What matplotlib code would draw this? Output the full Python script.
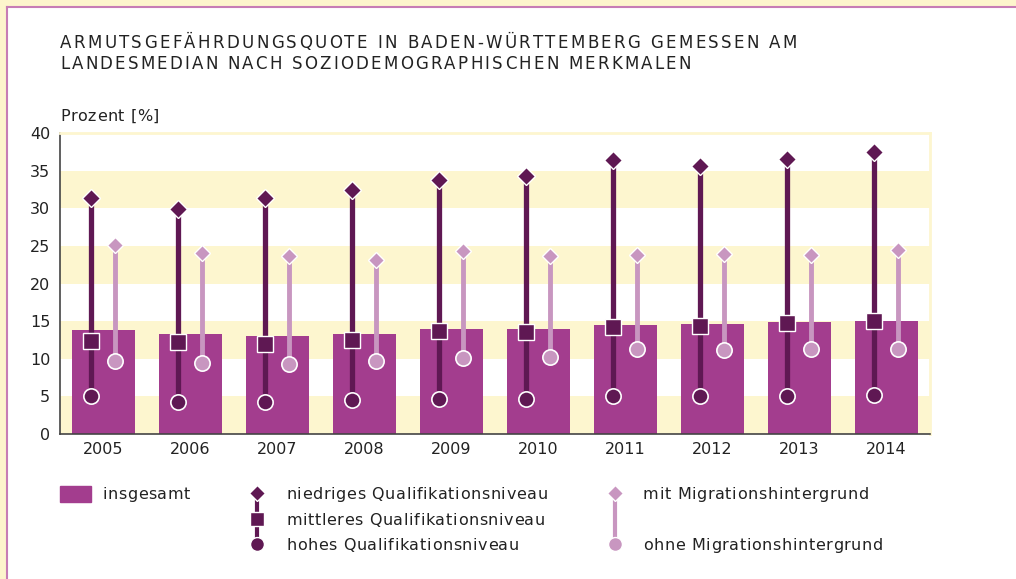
import matplotlib
matplotlib.use("Agg")
from matplotlib import pyplot as plt
from matplotlib.patches import Rectangle
from matplotlib.lines import Line2D
from matplotlib.font_manager import findfont, FontProperties
from matplotlib.ft2font import FT2Font
import numpy as np

plt.rcParams['font.family'] = ['DejaVu Sans']

years = ["2005", "2006", "2007", "2008", "2009", "2010", "2011", "2012", "2013", "2014"]
insgesamt = [13.8, 13.3, 13.0, 13.3, 14.0, 14.0, 14.5, 14.6, 14.9, 15.0]
niedrig = [31.4, 29.9, 31.3, 32.4, 33.8, 34.3, 36.4, 35.6, 36.5, 37.5]
mittel = [12.4, 12.2, 12.0, 12.5, 13.7, 13.5, 14.2, 14.4, 14.7, 15.0]
hoch = [5.0, 4.2, 4.2, 4.5, 4.6, 4.6, 5.0, 5.0, 5.0, 5.2]
mit_migration = [25.1, 24.0, 23.6, 23.1, 24.3, 23.7, 23.8, 23.9, 23.8, 24.5]
ohne_migration = [9.7, 9.4, 9.3, 9.7, 10.1, 10.2, 11.3, 11.2, 11.3, 11.3]

BAR = "#a33d8e"
DARK = "#5f1853"
LIGHT = "#c896c0"
BAND = "#fdf6cf"
TEXT = "#222222"
FS = 11.5

W, H = 1016, 579
fig = plt.figure(figsize=(W / 100, H / 100), dpi=100)

# outer frame: yellow strip and pink rule at top/left
fig.patches.append(Rectangle((0, 1 - 6 / H), 1, 6 / H, transform=fig.transFigure, color="#fdf5cc", zorder=0))
fig.patches.append(Rectangle((0, 0), 6 / W, 1, transform=fig.transFigure, color="#fdf5cc", zorder=0))
fig.lines.append(Line2D([6.5 / W, 1], [1 - 7 / H, 1 - 7 / H], transform=fig.transFigure, color="#c77db5", lw=1.5))
fig.lines.append(Line2D([7 / W, 7 / W], [0, 1 - 6.5 / H], transform=fig.transFigure, color="#c77db5", lw=1.5))

ax = fig.add_axes([60 / W, 1 - 434 / H, 870 / W, 301 / H])
x = np.arange(len(years))

for lo in range(0, 40, 10):
    ax.axhspan(lo, lo + 5, color=BAND, lw=0, zorder=0)

ax.bar(x, insgesamt, width=0.72, color=BAR, zorder=2)

dx_d, dx_l = -0.14, 0.13
ax.vlines(x + dx_d, hoch, niedrig, color=DARK, lw=3.8, zorder=3)
ax.vlines(x + dx_l, ohne_migration, mit_migration, color=LIGHT, lw=3.5, zorder=3)
ax.plot(x + dx_d, niedrig, "D", ms=9, mfc=DARK, mec="white", mew=1, ls="none", zorder=4)
ax.plot(x + dx_d, mittel, "s", ms=11, mfc=DARK, mec="white", mew=1, ls="none", zorder=4)
ax.plot(x + dx_d, hoch, "o", ms=11, mfc=DARK, mec="white", mew=1.2, ls="none", zorder=4)
ax.plot(x + dx_l, mit_migration, "D", ms=8.5, mfc=LIGHT, mec="white", mew=1, ls="none", zorder=4)
ax.plot(x + dx_l, ohne_migration, "o", ms=11, mfc=LIGHT, mec="white", mew=1.2, ls="none", zorder=4)

ax.set_xlim(-0.5, len(years) - 0.5)
ax.set_ylim(0, 40)
ax.set_yticks(range(0, 41, 5))
ax.set_xticks(x)
ax.set_xticklabels(years)
ax.tick_params(axis="both", length=0, labelsize=FS, labelcolor=TEXT, pad=6)
ax.tick_params(axis="y", pad=7)
for s in ["left", "bottom"]:
    ax.spines[s].set_color("#444444")
    ax.spines[s].set_linewidth(1.2)
for s in ["top", "right"]:
    ax.spines[s].set_color(BAND)
    ax.spines[s].set_linewidth(2)

# overlay in pixel coordinates for title, unit label and legend
lg = fig.add_axes([0, 0, 1, 1], zorder=5)
lg.set_xlim(0, W)
lg.set_ylim(H, 0)
lg.axis("off")

font = FT2Font(findfont(FontProperties(family="DejaVu Sans")))


def tracked(x0, y0, s, track=0.0, width=None, size=FS):
    # letter-spaced text, one text per glyph placed by its advance width
    font.set_size(size, 100)
    adv = [font.load_char(ord(c)).linearHoriAdvance / 65536 for c in s]
    if width is not None:
        track = (width - sum(adv)) / (len(s) - 1)
    pen = x0
    for ch, a in zip(s, adv):
        if ch != " ":
            lg.text(pen, y0, ch, fontsize=size, color=TEXT, va="baseline", ha="left")
        pen += a + track


tracked(60, 48, "ARMUTSGEFÄHRDUNGSQUOTE IN BADEN-WÜRTTEMBERG GEMESSEN AM", width=737, size=12)
tracked(60, 69, "LANDESMEDIAN NACH SOZIODEMOGRAPHISCHEN MERKMALEN", width=631, size=12)
tracked(60, 121, "Prozent [%]", width=99)

TR = 0.65
lg.add_patch(Rectangle((60, 486), 31, 16, color=BAR))
tracked(102, 499, "insgesamt", TR)
lg.plot([257, 257], [493, 544], color=DARK, lw=3)
lg.plot([257], [493], "D", ms=8, color=DARK, mec="white", mew=1)
lg.plot([257], [519], "s", ms=10, color=DARK, mec="white", mew=1)
lg.plot([257], [544], "o", ms=10, color=DARK, mec="white", mew=1)
tracked(286, 499, "niedriges Qualifikationsniveau", TR)
tracked(286, 525, "mittleres Qualifikationsniveau", TR)
tracked(286, 550, "hohes Qualifikationsniveau", TR)
lg.plot([615, 615], [493, 544], color=LIGHT, lw=3)
lg.plot([615], [493], "D", ms=8, color=LIGHT, mec="white", mew=1)
lg.plot([615], [544], "o", ms=10, color=LIGHT, mec="white", mew=1)
tracked(643, 499, "mit Migrationshintergrund", TR)
tracked(643, 550, "ohne Migrationshintergrund", TR)

fig.savefig("out.png", dpi=100)
